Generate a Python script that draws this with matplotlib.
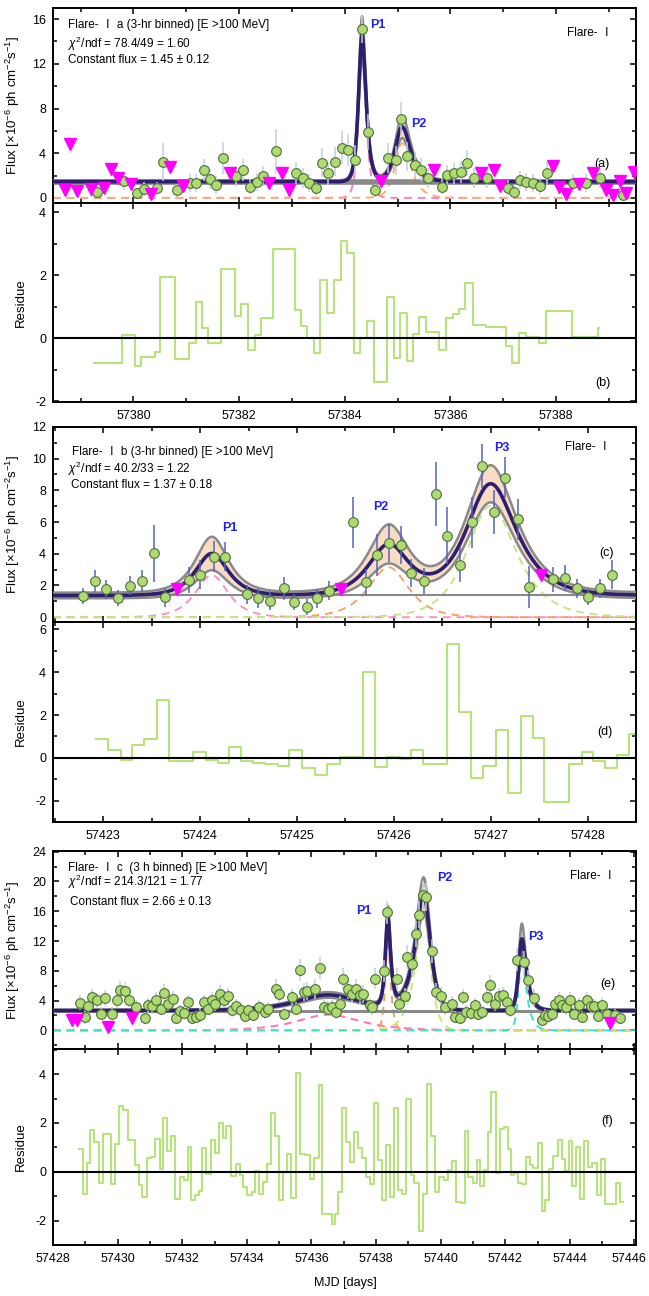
import numpy as np
import matplotlib
matplotlib.use("Agg")
import matplotlib.pyplot as plt
from matplotlib.ticker import MultipleLocator, FormatStrFormatter, FuncFormatter

plt.rcParams['font.family'] = ['Liberation Sans', 'Noto Sans CJK SC', 'DejaVu Sans']
plt.rcParams['mathtext.fontset'] = 'custom'
plt.rcParams['mathtext.rm'] = 'Liberation Sans'
plt.rcParams['mathtext.it'] = 'Liberation Sans:italic'
plt.rcParams['axes.unicode_minus'] = False

# ---------------- Flare-I a ----------------
a_t = [57379.32, 57379.82, 57380.07, 57380.20, 57380.45, 57380.57, 57380.83, 57381.08, 57381.19, 57381.33,
       57381.45, 57381.57, 57381.70, 57381.95, 57382.08, 57382.20, 57382.33, 57382.45, 57382.70, 57383.07,
       57383.20, 57383.32, 57383.45, 57383.56, 57383.68, 57383.81, 57383.94, 57384.06, 57384.19, 57384.32,
       57384.44, 57384.57, 57384.82, 57384.96, 57385.07, 57385.18, 57385.32, 57385.45, 57385.57, 57385.83,
       57385.94, 57386.07, 57386.19, 57386.32, 57386.44, 57386.69, 57387.09, 57387.21, 57387.31, 57387.43,
       57387.56, 57387.69, 57387.82, 57388.31, 57388.57, 57388.82, 57389.27]
a_f = [0.57, 1.52, 0.42, 0.78, 0.86, 3.22, 0.69, 1.37, 1.37, 2.49,
       1.72, 1.16, 3.57, 1.96, 2.49, 1.01, 1.46, 1.96, 4.16, 2.25,
       1.81, 1.37, 0.86, 3.13, 2.19, 3.22, 4.51, 4.30, 3.42, 15.1,
       5.93, 0.69, 3.57, 3.37, 7.10, 3.72, 2.98, 2.54, 1.81, 1.01,
       2.01, 2.19, 2.31, 3.13, 1.81, 1.75, 0.93, 0.57, 1.60, 1.46,
       1.37, 1.07, 2.25, 1.37, 1.37, 1.75, 0.28]
a_e = [0.6, 0.8, 0.5, 0.6, 0.6, 1.7, 0.6, 0.8, 0.8, 1.0,
       0.9, 0.8, 1.4, 0.9, 1.0, 0.7, 0.8, 0.9, 2.0, 1.0,
       0.9, 0.8, 0.6, 1.3, 1.0, 1.3, 1.5, 1.4, 1.3, 1.2,
       1.6, 0.6, 1.3, 1.3, 1.5, 1.3, 1.1, 1.0, 0.9, 0.7,
       0.9, 0.9, 1.0, 1.2, 0.9, 0.9, 0.7, 0.6, 0.8, 0.8,
       0.8, 0.7, 1.0, 0.8, 0.8, 0.9, 0.4]
a_ul_t = [57378.71, 57378.81, 57378.94, 57379.19, 57379.44, 57379.57, 57379.70, 57379.95, 57380.33, 57380.70,
          57380.94, 57381.83, 57382.57, 57382.82, 57382.95, 57384.69, 57385.69, 57386.57, 57386.82, 57386.94,
          57387.94, 57388.06, 57388.19, 57388.44, 57388.69, 57388.94, 57389.07, 57389.20, 57389.32, 57389.48]
a_ul_f = [0.69, 4.83, 0.63, 0.84, 0.93, 2.63, 1.81, 1.22, 0.34, 2.78,
          1.07, 2.19, 1.37, 2.19, 0.69, 1.52, 2.49, 2.25, 2.54, 1.07,
          2.84, 1.01, 0.34, 1.22, 2.25, 0.69, 0.28, 1.52, 0.48, 2.34]
a_const, a_const_err = 1.45, 0.12
a_peak_t = [57384.32, 57385.06]
a_peak_amp = [13.0, 4.8]
a_peak_tr = [0.055, 0.105]
a_peak_td = [0.07, 0.16]
a_peak_rel = [0.12, 0.18]
a_peak_color = ['#ff80c0', '#f5b07a']
a_labels = [("P1", 57384.47, 15.5), ("P2", 57385.26, 6.57)]

b_edges = [57379.26, 57379.79, 57380.03, 57380.14, 57380.40, 57380.51, 57380.79, 57381.05, 57381.18, 57381.30,
           57381.41, 57381.66, 57381.92, 57382.03, 57382.17, 57382.30, 57382.42, 57382.65, 57383.05, 57383.18,
           57383.28, 57383.42, 57383.54, 57383.67, 57383.79, 57383.92, 57384.05, 57384.17, 57384.28, 57384.42,
           57384.55, 57384.79, 57384.93, 57385.05, 57385.18, 57385.30, 57385.41, 57385.54, 57385.79, 57385.92,
           57386.04, 57386.17, 57386.28, 57386.42, 57386.68, 57387.05, 57387.16, 57387.30, 57387.42, 57387.67,
           57387.81, 57388.30, 57388.79]
b_vals = [-0.78, 0.10, -0.89, -0.59, -0.44, 1.95, -0.67, -0.14, 1.14, 0.34,
          -0.16, 2.21, 0.70, 1.09, -0.37, 0.11, 0.66, 2.83, 0.90, 0.40,
          0.00, -0.46, 1.84, 0.82, 1.84, 3.10, 2.72, -0.46, 0.00, 0.56,
          -1.39, 1.33, -0.62, 0.80, -0.71, 0.15, 0.68, 0.20, -0.37, 0.66,
          0.77, 0.93, 1.75, 0.43, 0.36, -0.25, -0.78, 0.18, 0.04, -0.16,
          0.86, 0.04, 0.34]
b_end = 57388.81

# ---------------- Flare-I b ----------------
c_t = [57422.79, 57422.91, 57423.03, 57423.15, 57423.28, 57423.40, 57423.52, 57423.64, 57423.88, 57424.00,
       57424.14, 57424.26, 57424.48, 57424.60, 57424.72, 57424.86, 57424.97, 57425.10, 57425.21, 57425.33,
       57425.58, 57425.71, 57425.83, 57425.95, 57426.07, 57426.18, 57426.31, 57426.43, 57426.55, 57426.68,
       57426.81, 57426.91, 57427.03, 57427.15, 57427.28, 57427.40, 57427.64, 57427.77, 57427.89, 57428.00,
       57428.13, 57428.25]
c_f = [1.36, 2.28, 1.77, 1.19, 1.97, 2.28, 4.02, 1.25, 2.34, 2.69,
       3.82, 3.82, 1.46, 1.19, 1.05, 1.81, 0.94, 0.64, 1.19, 1.66,
       5.98, 2.22, 3.92, 4.68, 4.58, 2.79, 2.28, 7.76, 5.15, 3.31,
       5.98, 9.53, 6.65, 8.79, 6.18, 1.91, 2.38, 2.48, 1.81, 1.25,
       1.81, 2.69]
c_e = [0.5, 0.7, 0.6, 0.5, 0.6, 0.7, 1.8, 0.6, 0.8, 0.9,
       1.0, 0.9, 0.6, 0.6, 0.6, 0.7, 0.5, 0.5, 0.6, 0.6,
       1.6, 0.8, 1.3, 1.2, 1.2, 0.9, 0.8, 2.0, 1.8, 1.1,
       1.6, 1.4, 1.4, 1.3, 1.3, 1.3, 0.8, 0.8, 0.6, 0.5,
       0.6, 0.9]
c_ul_t = [57423.76, 57425.45, 57427.52]
c_ul_f = [1.77, 1.77, 2.69]
c_const, c_const_err = 1.37, 0.18
c_peak_t = [57424.12, 57425.95, 57426.98]
c_peak_amp = [2.65, 3.15, 7.0]
c_peak_tr = [0.15, 0.19, 0.21]
c_peak_td = [0.15, 0.18, 0.25]
c_peak_rel = [0.33, 0.33, 0.14]
c_peak_color = ['#ff8fc8', '#f4a46a', '#c5e58a']
c_labels = [("P1", 57424.23, 5.63), ("P2", 57425.79, 6.96), ("P3", 57427.03, 10.64)]

d_edges = [57422.92, 57423.05, 57423.18, 57423.30, 57423.42, 57423.55, 57423.68, 57423.93, 57424.06, 57424.18,
           57424.30, 57424.42, 57424.55, 57424.67, 57424.80, 57424.92, 57425.05, 57425.18, 57425.31, 57425.44,
           57425.68, 57425.80, 57425.93, 57426.06, 57426.18, 57426.30, 57426.55, 57426.67, 57426.80, 57426.92,
           57427.05, 57427.18, 57427.31, 57427.44, 57427.55, 57427.81, 57427.94, 57428.06, 57428.18, 57428.30,
           57428.43]
d_vals = [0.90, 0.39, -0.09, 0.61, 0.90, 2.68, -0.13, 0.27, -0.08, -0.25,
          0.49, -0.17, -0.24, -0.30, -0.36, 0.38, -0.47, -0.80, -0.31, 0.06,
          4.03, -0.41, 0.06, -0.05, 0.39, -0.28, 5.31, 2.13, -0.96, -0.39,
          1.29, -1.62, 1.95, 0.93, -2.08, -0.28, 0.27, -0.13, -0.47, 0.11,
          1.13]
d_end = 57428.5

# ---------------- Flare-I c ----------------
e_t = [57428.85, 57428.99, 57429.09, 57429.21, 57429.35, 57429.47, 57429.61, 57429.83, 57429.97, 57430.07,
       57430.22, 57430.35, 57430.58, 57430.84, 57430.94, 57431.05, 57431.20, 57431.33, 57431.44, 57431.56,
       57431.70, 57431.82, 57431.92, 57432.05, 57432.18, 57432.30, 57432.44, 57432.56, 57432.67, 57432.80,
       57432.92, 57433.03, 57433.16, 57433.28, 57433.41, 57433.55, 57433.67, 57433.83, 57433.93, 57434.03,
       57434.18, 57434.39, 57434.55, 57434.67, 57434.91, 57435.01, 57435.14, 57435.39, 57435.52, 57435.66,
       57435.76, 57435.86, 57436.11, 57436.27, 57436.38, 57436.50, 57436.64, 57436.76, 57436.89, 57436.99,
       57437.12, 57437.27, 57437.38, 57437.51, 57437.61, 57437.82, 57437.89, 57437.97, 57438.25, 57438.35,
       57438.64, 57438.71, 57438.90, 57438.97, 57439.12, 57439.23, 57439.33, 57439.45, 57439.56, 57439.72,
       57439.85, 57440.00, 57440.15, 57440.36, 57440.46, 57440.59, 57440.69, 57440.79, 57440.93, 57441.06,
       57441.16, 57441.27, 57441.44, 57441.54, 57441.68, 57441.80, 57441.92, 57442.06, 57442.16, 57442.37,
       57442.58, 57442.71, 57442.90, 57443.14, 57443.22, 57443.32, 57443.45, 57443.55, 57443.65, 57443.76,
       57443.89, 57444.01, 57444.14, 57444.27, 57444.39, 57444.53, 57444.66, 57444.76, 57444.87, 57445.01,
       57445.15, 57445.40, 57445.56]
e_f = [3.71, 1.78, 3.21, 4.46, 4.02, 2.23, 4.33, 2.23, 4.02, 5.45,
       5.27, 4.11, 3.12, 1.69, 3.35, 3.21, 4.11, 2.90, 5.00, 3.57,
       4.24, 1.65, 2.54, 2.32, 3.79, 1.65, 1.78, 2.10, 3.79, 2.90,
       4.11, 3.57, 4.91, 4.11, 4.55, 2.68, 3.21, 2.68, 1.87, 2.68,
       2.00, 3.12, 2.46, 2.90, 5.58, 4.91, 2.23, 4.46, 2.90, 8.12,
       5.13, 5.27, 5.58, 8.34, 3.12, 2.90, 3.12, 2.46, 3.57, 6.92,
       5.58, 4.91, 5.58, 4.69, 4.91, 3.35, 3.12, 6.92, 7.94, 15.84,
       6.92, 3.57, 4.55, 9.81, 8.93, 12.94, 15.53, 18.20, 17.94, 10.71,
       5.13, 4.60, 3.12, 3.57, 1.78, 1.69, 4.46, 2.46, 2.32, 3.35,
       2.23, 2.46, 4.46, 6.16, 3.57, 4.55, 4.69, 3.79, 2.68, 9.50,
       9.15, 6.78, 4.40, 1.43, 2.00, 1.87, 2.23, 3.57, 4.11, 3.35,
       3.12, 4.02, 2.23, 3.35, 1.78, 4.11, 3.21, 3.21, 1.87, 3.35,
       2.23, 2.00, 1.69]
e_e = [1.0, 0.9, 1.0, 1.1, 1.0, 0.9, 1.1, 0.9, 1.0, 1.2,
       1.2, 1.0, 1.0, 0.8, 1.0, 1.0, 1.1, 0.9, 1.2, 1.0,
       1.1, 0.8, 0.9, 0.9, 1.0, 0.8, 0.8, 0.9, 1.0, 0.9,
       1.1, 1.0, 1.2, 1.1, 1.1, 0.9, 1.0, 0.9, 0.8, 0.9,
       0.8, 1.0, 0.9, 0.9, 1.3, 1.2, 0.9, 1.1, 0.9, 1.5,
       1.2, 1.2, 1.3, 1.5, 1.0, 1.0, 1.0, 0.9, 1.0, 1.4,
       1.3, 1.2, 1.3, 1.2, 1.2, 1.0, 1.0, 1.4, 1.5, 1.6,
       1.4, 1.0, 1.2, 1.6, 1.5, 1.7, 1.8, 1.9, 1.9, 1.6,
       1.2, 1.2, 1.0, 1.0, 0.8, 0.8, 1.1, 0.9, 0.9, 1.0,
       0.9, 0.9, 1.1, 1.3, 1.0, 1.1, 1.1, 1.0, 0.9, 1.5,
       1.5, 1.3, 1.1, 0.8, 0.9, 0.8, 0.9, 1.0, 1.1, 1.0,
       1.0, 1.1, 0.9, 1.0, 0.8, 1.1, 1.0, 1.0, 0.8, 1.0,
       0.9, 0.9, 0.8]
e_ul_t = [57428.58, 57428.73, 57429.71, 57430.45, 57445.25]
e_ul_f = [1.34, 1.38, 0.45, 1.69, 0.98]
e_const, e_const_err = 2.66, 0.13
e_peak_t = [57436.5, 57438.36, 57439.52, 57442.48]
e_peak_amp = [2.1, 11.5, 15.0, 9.0]
e_peak_tr = [0.85, 0.065, 0.26, 0.07]
e_peak_td = [0.9, 0.08, 0.16, 0.15]
e_peak_rel = [0.12, 0.12, 0.14, 0.2]
e_peak_color = ['#ff70b0', '#f4a060', '#cde86a', '#40e0d0']
e_labels = [("P1", 57437.39, 16.06), ("P2", 57439.90, 20.5), ("P3", 57442.70, 12.5)]

f_edges = [57428.80, 57428.92, 57429.05, 57429.16, 57429.28, 57429.41, 57429.54, 57429.78, 57429.91, 57430.04,
           57430.17, 57430.31, 57430.53, 57430.66, 57430.76, 57430.91, 57431.04, 57431.17, 57431.30, 57431.40,
           57431.53, 57431.66, 57431.79, 57431.92, 57432.04, 57432.17, 57432.26, 57432.39, 57432.52, 57432.62,
           57432.75, 57432.88, 57433.01, 57433.13, 57433.26, 57433.37, 57433.52, 57433.65, 57433.78, 57433.89,
           57434.02, 57434.15, 57434.25, 57434.38, 57434.51, 57434.64, 57434.76, 57434.86, 57435.00, 57435.12,
           57435.25, 57435.38, 57435.51, 57435.64, 57435.79, 57435.96, 57436.09, 57436.22, 57436.34, 57436.63,
           57436.73, 57436.82, 57436.95, 57437.08, 57437.20, 57437.33, 57437.44, 57437.56, 57437.69, 57437.82,
           57437.94, 57438.06, 57438.17, 57438.30, 57438.42, 57438.55, 57438.68, 57438.81, 57438.94, 57439.07,
           57439.19, 57439.32, 57439.45, 57439.58, 57439.71, 57439.84, 57439.96, 57440.09, 57440.22, 57440.35,
           57440.48, 57440.63, 57440.76, 57440.86, 57440.99, 57441.12, 57441.22, 57441.35, 57441.48, 57441.57,
           57441.70, 57441.83, 57441.95, 57442.08, 57442.19, 57442.28, 57442.40, 57442.51, 57442.63, 57442.76,
           57442.85, 57443.02, 57443.15, 57443.24, 57443.37, 57443.49, 57443.62, 57443.75, 57443.85, 57443.98,
           57444.07, 57444.20, 57444.33, 57444.43, 57444.56, 57444.69, 57444.84, 57444.97, 57445.10, 57445.42,
           57445.55]
f_vals = [0.94, -0.90, 0.34, 1.72, 1.21, -0.48, 1.56, -0.51, 1.13, 2.69,
          2.51, 1.28, 0.28, -0.55, -1.03, 0.55, 0.62, 1.35, 0.11, 2.21,
          0.86, 1.48, -1.13, -0.21, -0.34, 1.00, -1.14, -0.97, -0.79, 0.99,
          -0.10, 1.28, 0.76, 2.00, 1.38, 1.86, -0.17, 0.32, -0.14, -0.62,
          -0.97, -0.83, 0.04, -0.92, -0.41, 0.30, 2.39, 1.48, -1.14, 0.00,
          0.72, -1.06, 4.03, 0.73, 0.69, -0.28, 0.55, 3.56, -1.75, -2.14,
          -1.72, -0.83, 2.62, 1.20, 0.41, 1.61, 0.99, 0.55, -0.23, -0.52,
          2.80, 0.48, -1.17, 1.10, -1.03, 2.62, -0.76, -0.92, 2.97, -0.14,
          -0.48, -2.44, -0.90, 3.61, 1.45, -0.83, -0.21, -0.34, 0.07, 0.46,
          -1.24, -1.28, 1.68, -0.23, -0.48, 0.48, -0.59, 0.07, 1.63, 3.27,
          -0.04, 1.75, 1.82, 0.94, -0.14, -0.07, -0.48, -0.51, 0.59, 0.28,
          0.17, 1.17, -1.59, -1.14, 0.10, 0.66, 1.31, 0.51, 0.03, 1.24,
          -0.59, 1.03, -1.10, 1.24, 0.21, 0.34, -0.97, 0.51, -1.31, -0.46,
          -1.24]
f_end = 57445.65

GREEN_FACE = '#addb6f'
GREEN_EDGE = '#4f6e3c'
MAGENTA = '#ff00ff'
NAVY = '#2e1f6e'
GRAY = '#8a8a8a'
PEACH = '#f8dcc3'
RES = '#b7e27c'
PBLUE = '#1f1fff'


def flare(t, t0, amp, tr, td):
    rise = np.exp(np.clip((t0 - t) / tr, -60, 60))
    fall = np.exp(np.clip((t - t0) / td, -60, 60))
    return 2 * amp / (rise + fall)


def style_axis(ax, xlim, ylim, xmaj, ymaj, show_x):
    ax.set_xlim(xlim)
    ax.set_ylim(ylim)
    ax.xaxis.set_major_locator(MultipleLocator(xmaj))
    ax.xaxis.set_minor_locator(MultipleLocator(xmaj / 2))
    ax.yaxis.set_major_locator(MultipleLocator(ymaj))
    ax.yaxis.set_minor_locator(MultipleLocator(ymaj / 2))
    ax.xaxis.set_major_formatter(FormatStrFormatter('%d'))
    ax.yaxis.set_major_formatter(FormatStrFormatter('%d'))
    ax.tick_params(which='both', direction='in', top=True, right=True, width=1.1, labelsize=9)
    ax.tick_params(which='major', length=4.5)
    ax.tick_params(which='minor', length=3)
    ax.tick_params(axis='x', pad=6, labelbottom=show_x)
    ax.tick_params(axis='y', pad=5)
    for s in ax.spines.values():
        s.set_linewidth(1.4)


def draw_flux(ax, xlim, t, f, err, ul_t, ul_f, const, const_err, pk_t, pk_amp, pk_tr, pk_td, pk_rel,
              pk_color, errcolor, const_lw):
    grid = np.linspace(xlim[0], xlim[1], 3000)
    comps = [flare(grid, t0, a, tr, td) for t0, a, tr, td in zip(pk_t, pk_amp, pk_tr, pk_td)]
    fit = const + np.sum(comps, axis=0)
    band = const_err + np.sum([r * c for r, c in zip(pk_rel, comps)], axis=0)
    ax.fill_between(grid, fit - band, fit + band, color=PEACH, lw=0, zorder=1)
    for comp, col in zip(comps, pk_color):
        ax.plot(grid, comp, ls=(0, (4, 3)), color=col, lw=1.4, zorder=2)
    ax.axhline(const, color=GRAY, lw=const_lw, zorder=2)
    ax.plot(grid, fit + band, color=GRAY, lw=1.8, zorder=3)
    ax.plot(grid, fit - band, color=GRAY, lw=1.8, zorder=3)
    ax.plot(grid, fit, color=NAVY, lw=2.6, zorder=4)
    ax.errorbar(t, f, yerr=err, fmt='o', ms=7, mfc=GREEN_FACE, mec=GREEN_EDGE, mew=0.8,
                ecolor=errcolor, elinewidth=1.1, capsize=0, zorder=5)
    ax.plot(ul_t, ul_f, 'v', ms=8, color=MAGENTA, zorder=6)


def draw_residue(ax, edges, vals, end):
    x = np.append(edges, end)
    y = np.append(vals, vals[-1])
    ax.step(x, y, where='post', color=RES, lw=1.5, zorder=2)
    ax.axhline(0, color='black', lw=1.5, zorder=3)


def add_texts(ax, lines, tag, tag_pos, flare_pos, labels):
    for (x, y, s) in lines:
        ax.text(x, y, s, transform=ax.transAxes, fontsize=8.5)
    ax.text(flare_pos[0], flare_pos[1], "Flare- Ⅰ", transform=ax.transAxes, fontsize=8.5)
    ax.text(tag_pos[0], tag_pos[1], tag, transform=ax.transAxes, fontsize=9, ha='center', va='center')
    for s, x, y in labels:
        ax.text(x, y, s, color=PBLUE, fontweight='bold', fontsize=9, ha='left', va='center', zorder=7)


fig = plt.figure(figsize=(6.49, 12.96), dpi=100)
L, W = 0.0817, 0.8983
ax_a = fig.add_axes([L, 0.8434, W, 0.1505])
ax_b = fig.add_axes([L, 0.6898, W, 0.1536])
ax_c = fig.add_axes([L, 0.5201, W, 0.1505])
ax_d = fig.add_axes([L, 0.3657, W, 0.1544])
ax_e = fig.add_axes([L, 0.1906, W, 0.1528])
ax_f = fig.add_axes([L, 0.0394, W, 0.1512])

flux_label = r"Flux [×10$^{-6}$ ph cm$^{-2}$s$^{-1}$]"

# panel a / b
xlim_ab = (57378.48, 57389.51)
draw_flux(ax_a, xlim_ab, a_t, a_f, a_e, a_ul_t, a_ul_f, a_const, a_const_err, a_peak_t, a_peak_amp,
          a_peak_tr, a_peak_td, a_peak_rel, a_peak_color, '#c6cde0', 4)
style_axis(ax_a, xlim_ab, (-0.45, 17.0), 2, 4, False)
add_texts(ax_a, [(0.026, 0.897, "Flare- Ⅰ a (3-hr binned) [E >100 MeV]"),
                 (0.026, 0.795, r"$\chi^2$/ndf = 78.4/49 = 1.60"),
                 (0.026, 0.718, "Constant flux = 1.45 ± 0.12")],
          "(a)", (0.941, 0.2), (0.882, 0.856), a_labels)
draw_residue(ax_b, b_edges, b_vals, b_end)
style_axis(ax_b, xlim_ab, (-2.02, 4.3), 2, 2, True)
ax_b.text(0.943, 0.096, "(b)", transform=ax_b.transAxes, fontsize=9, ha='center', va='center')

# panel c / d
xlim_cd = (57422.48, 57428.5)
draw_flux(ax_c, xlim_cd, c_t, c_f, c_e, c_ul_t, c_ul_f, c_const, c_const_err, c_peak_t, c_peak_amp,
          c_peak_tr, c_peak_td, c_peak_rel, c_peak_color, '#5563c0', 1.5)
style_axis(ax_c, xlim_cd, (-0.3, 12.0), 1, 2, False)
add_texts(ax_c, [(0.033, 0.856, "Flare- Ⅰ b (3-hr binned) [E >100 MeV]"),
                 (0.026, 0.764, r"$\chi^2$/ndf = 40.2/33 = 1.22"),
                 (0.031, 0.687, "Constant flux = 1.37 ± 0.18")],
          "(c)", (0.95, 0.354), (0.878, 0.882), c_labels)
draw_residue(ax_d, d_edges, d_vals, d_end)
style_axis(ax_d, xlim_cd, (-3.0, 6.35), 2, 2, True)
ax_d.xaxis.set_major_locator(MultipleLocator(1))
ax_d.xaxis.set_minor_locator(MultipleLocator(0.5))
ax_d.text(0.947, 0.45, "(d)", transform=ax_d.transAxes, fontsize=9, ha='center', va='center')

# panel e / f
xlim_ef = (57428.0, 57446.05)
draw_flux(ax_e, xlim_ef, e_t, e_f, e_e, e_ul_t, e_ul_f, e_const, e_const_err, e_peak_t, e_peak_amp,
          e_peak_tr, e_peak_td, e_peak_rel, e_peak_color, '#c6cde0', 2.2)
style_axis(ax_e, xlim_ef, (-2.5, 24.1), 2, 4, False)
add_texts(ax_e, [(0.026, 0.899, "Flare- Ⅰ c  (3 h binned) [E >100 MeV]"),
                 (0.026, 0.823, r"$\chi^2$/ndf = 214.3/121 = 1.77"),
                 (0.029, 0.727, "Constant flux = 2.66 ± 0.13")],
          "(e)", (0.952, 0.328), (0.887, 0.859), e_labels)
draw_residue(ax_f, f_edges, f_vals, f_end)
style_axis(ax_f, xlim_ef, (-3.0, 5.03), 2, 2, True)
# last MJD label sits at the figure edge: drawn separately, nudged left
ax_f.xaxis.set_major_formatter(FuncFormatter(lambda v, p: '' if v > 57445 else '%d' % v))
ax_f.annotate('57446', xy=(57446, 0), xycoords=('data', 'axes fraction'), xytext=(-4, -6),
              textcoords='offset points', ha='center', va='top', fontsize=9)
ax_f.text(0.951, 0.63, "(f)", transform=ax_f.transAxes, fontsize=9, ha='center', va='center')

for ax in (ax_a, ax_c, ax_e):
    ax.set_ylabel(flux_label, fontsize=9.5)
    ax.yaxis.set_label_coords(-0.053, 0.5)
for ax in (ax_b, ax_d, ax_f):
    ax.set_ylabel("Residue", fontsize=9.5)
    ax.yaxis.set_label_coords(-0.045, 0.5)

fig.text(345 / 649, 1 - 1283 / 1296, "MJD [days]", fontsize=9, ha='center', va='center')

fig.savefig("out.png", dpi=100)
